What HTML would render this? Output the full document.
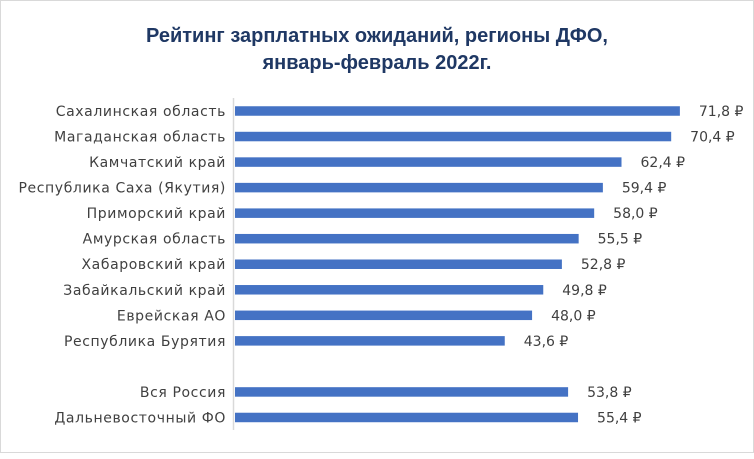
<!DOCTYPE html>
<html><head><meta charset="utf-8"><style>
html,body{margin:0;padding:0;background:#fff;}
body{width:754px;height:454px;overflow:hidden;font-family:"Liberation Sans","Noto Sans CJK SC",sans-serif;}
</style></head><body>
<svg id="chart" width="754" height="454" xmlns="http://www.w3.org/2000/svg">
<rect x="0.5" y="0.5" width="753" height="452" fill="#fff" stroke="#d9d9d9" stroke-width="1"/>
<text x="377" y="42" text-anchor="middle" font-size="20" font-weight="bold" fill="#1f3864">Рейтинг зарплатных ожиданий, регионы ДФО,</text>
<text x="377" y="69" text-anchor="middle" font-size="20" font-weight="bold" fill="#1f3864">январь-февраль 2022г.</text>
<g id="bars"></g>
<line x1="233.5" y1="98" x2="233.5" y2="430" stroke="#d9d9d9" stroke-width="1.5"/>
</svg>
<script>
const categories = ["Сахалинская область","Магаданская область","Камчатский край","Республика Саха (Якутия)","Приморский край","Амурская область","Хабаровский край","Забайкальский край","Еврейская АО","Республика Бурятия","","Вся Россия","Дальневосточный ФО"];
const values = [71.8,70.4,62.4,59.4,58.0,55.5,52.8,49.8,48.0,43.6,null,53.8,55.4];
const x0 = 234, pxPerUnit = 6.21;
const rowTop = 111, rowStep = 25.54, barH = 9.5;
function xScale(v){return x0 + v*pxPerUnit;}
function yScale(i){return rowTop + i*rowStep;}
const g = document.getElementById('bars');
const ns = "http://www.w3.org/2000/svg";
categories.forEach((c,i)=>{
  const v = values[i];
  if (v === null || v === undefined) return;
  const y = yScale(i);
  const lab = document.createElementNS(ns,'text');
  
  
  lab.setAttribute('x',226); lab.setAttribute('y',y+5);
  lab.setAttribute('text-anchor','end'); lab.setAttribute('font-size','14');
  lab.setAttribute('font-family','"DejaVu Sans", sans-serif');
  lab.setAttribute('letter-spacing','0.6');
  lab.setAttribute('fill','#404040');
  lab.textContent = c; g.appendChild(lab);
  const r = document.createElementNS(ns,'rect');
  
  
  r.setAttribute('x',x0+1); r.setAttribute('y',y-barH/2);
  r.setAttribute('width',xScale(v)-x0-1); r.setAttribute('height',barH);
  r.setAttribute('fill','#4472c4'); g.appendChild(r);
  const vl = document.createElementNS(ns,'text');
  
  
  vl.setAttribute('x',xScale(v)+19); vl.setAttribute('y',y+5);
  vl.setAttribute('font-size','14'); vl.setAttribute('fill','#404040');
  vl.setAttribute('font-family','"DejaVu Sans", sans-serif');
  vl.textContent = v.toFixed(1).replace('.',',') + ' \u20BD'; g.appendChild(vl);
});
</script>
</body></html>
